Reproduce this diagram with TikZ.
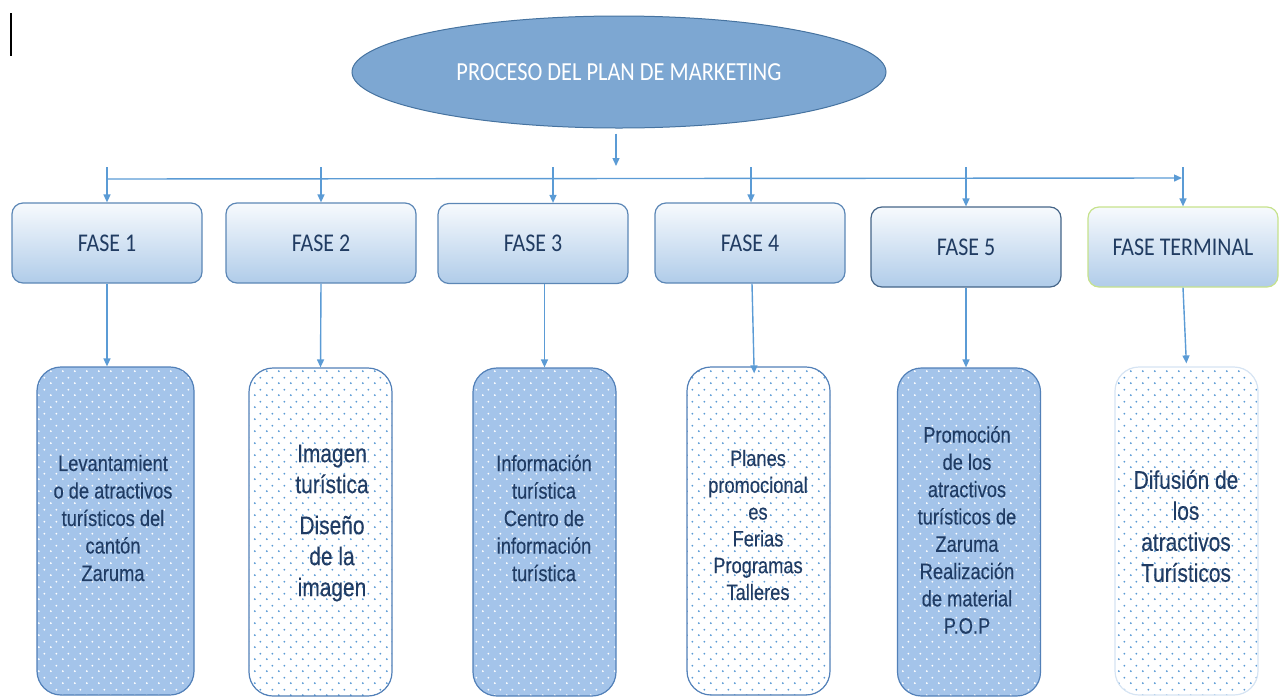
\documentclass[tikz,border=0pt]{standalone}
\usepackage{fontspec}
\usetikzlibrary{shapes.geometric,arrows.meta,patterns.meta}
\newfontfamily\calibri[FakeStretch=0.86]{Carlito}
\newfontfamily\estrecha[FakeStretch=0.82,FakeBold=0.3]{Liberation Sans}
\definecolor{conector}{RGB}{91,155,213}
\definecolor{elipse}{RGB}{125,167,210}
\definecolor{bordeelipse}{RGB}{70,115,160}
\definecolor{bordefase}{RGB}{92,135,182}
\definecolor{textofase}{RGB}{33,60,98}
\definecolor{verdeterminal}{RGB}{198,226,140}
\definecolor{arribafase}{RGB}{247,250,253}
\definecolor{mediofase}{RGB}{222,234,246}
\definecolor{abajofase}{RGB}{176,204,233}
\definecolor{relleno}{RGB}{164,196,234}
\definecolor{bordecaja}{RGB}{82,128,184}
\definecolor{bordeclaro}{RGB}{214,228,243}
\definecolor{textocaja}{RGB}{32,60,100}
\tikzdeclarepattern{
  name=puntitos,
  type=uncolored,
  bottom left={(0pt,0pt)},
  top right={(12pt,12pt)},
  tile size={(12pt,12pt)},
  code={
    \fill (3pt,3pt) circle [radius=1.1pt];
    \fill (9pt,9pt) circle [radius=1.1pt];
  }
}
\begin{document}
\begin{tikzpicture}[x=1pt,y=-1pt]
\tikzset{
    fase/.style={draw=bordefase, line width=1.2pt, rounded corners=11pt,
        top color=arribafase, middle color=mediofase, bottom color=abajofase,
        minimum width=190pt, minimum height=80pt, inner sep=0pt,
        text=textofase, font=\calibri\fontsize{25.5}{30}\selectfont},
    caja/.style={draw=bordecaja, line width=1.2pt, rounded corners=24pt,
        minimum width=143pt, minimum height=328pt, inner sep=0pt},
    densa/.style={caja, preaction={fill=relleno}, pattern=puntitos, pattern color=white},
    rala/.style={caja, preaction={fill=white}, pattern=puntitos, pattern color=conector},
    etiqueta/.style={text=textocaja, align=center, font=\estrecha\fontsize{22.3}{27.5}\selectfont},
    grande/.style={font=\estrecha\fontsize{25.5}{31}\selectfont},
    flecha/.style={draw=conector, line width=1.4pt, -{Triangle[length=8pt,width=7pt]}}
}
\useasboundingbox (0,0) rectangle (1286,697);
% cursor
\draw[line width=1.6pt] (11,13) -- (11,56);
% titulo
\node[shape=ellipse, fill=elipse, draw=bordeelipse, line width=1pt,
      minimum width=534pt, minimum height=112pt, inner sep=0pt,
      text=white, font=\calibri\fontsize{26}{30}\selectfont] (proceso) at (619,72) {PROCESO DEL PLAN DE MARKETING};
% fases
\node[fase] (fase1) at (107,243) {FASE 1};
\node[fase] (fase2) at (321,243) {FASE 2};
\node[fase] (fase3) at (533,243.5) {FASE 3};
\node[fase] (fase4) at (750,243) {FASE 4};
\node[fase, draw=bordefase!75!black] (fase5) at (966,247) {FASE 5};
\node[fase, draw=verdeterminal] (terminal) at (1183,247) {FASE TERMINAL};
% cajas
\node[densa, minimum width=157pt] (caja1) at (115.5,531) {};
\node[rala] (caja2) at (320.5,532) {};
\node[densa] (caja3) at (544.5,532) {};
\node[rala] (caja4) at (758.5,531) {};
\node[densa] (caja5) at (969,532) {};
\node[rala, draw=bordeclaro] (caja6) at (1186.5,531) {};
% textos
\node[etiqueta] (texto1) at (113,518) {Levantamient\\o de atractivos\\turísticos del\\cantón\\Zaruma};
\node[etiqueta, grande] (texto2) at (332,523) {Imagen\\turística\\[10pt]Diseño\\de la\\imagen};
\node[etiqueta] (texto3) at (544,518) {Información\\turística\\Centro de\\información\\turística};
\node[etiqueta, font=\estrecha\fontsize{22.3}{26.8}\selectfont] (texto4) at (758,525) {Planes\\promocional\\es\\Ferias\\Programas\\Talleres};
\node[etiqueta, font=\estrecha\fontsize{22.3}{27.3}\selectfont] (texto5) at (967,530) {Promoción\\de los\\atractivos\\turísticos de\\Zaruma\\Realización\\de material\\P.O.P};
\node[etiqueta, grande] (texto6) at (1186,526) {Difusión de\\los\\atractivos\\Turísticos};
% conectores
\coordinate (bajada) at (616,166);
\draw[flecha, shorten <=5pt] (proceso.south -| bajada) -- (bajada);
\coordinate (ramaizq) at (107,179);
\coordinate (ramader) at (1182,178);
\draw[flecha] (ramaizq) -- (ramader);
\foreach \f/\x in {fase1/107, fase2/321, fase3/553, fase4/751, fase5/966, terminal/1183}{
    \coordinate (r\f) at (\x,167);
    \draw[flecha] (r\f) -- (r\f |- \f.north);
}
\draw[flecha] (fase1.south) -- (fase1.south |- caja1.north);
\draw[flecha] (fase2.south) -- (caja2.north);
\draw[flecha] (fase3.south -| caja3.north) -- (caja3.north);
\draw[flecha, shorten >=-7pt] (fase4.south -| 752,0) -- (caja4.north -| 754,0);
\draw[flecha] (fase5.south) -- (fase5.south |- caja5.north);
\draw[flecha, shorten >=3pt] (terminal.south) -- (caja6.north);
\end{tikzpicture}
\end{document}
